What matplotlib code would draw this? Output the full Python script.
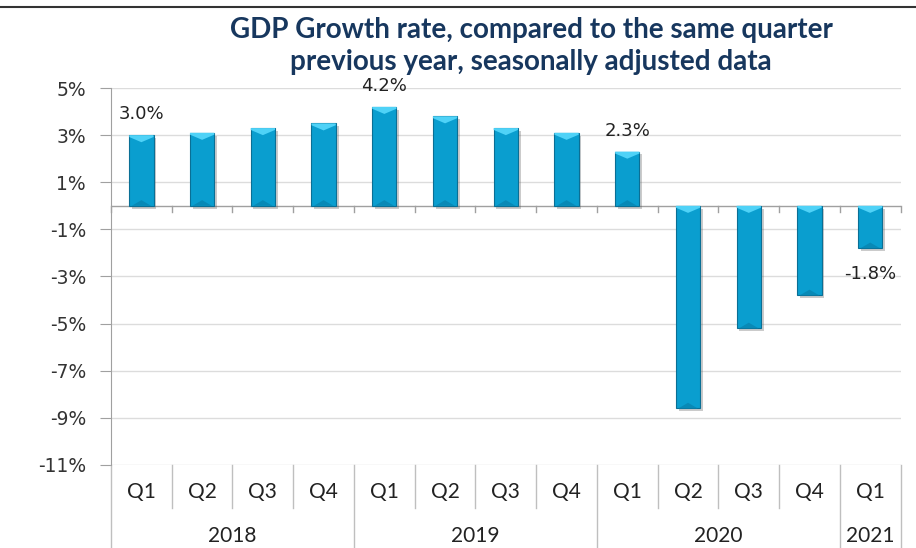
import matplotlib
matplotlib.use("Agg")
import matplotlib.pyplot as plt
import matplotlib.patheffects as pe
from matplotlib.lines import Line2D
import matplotlib.transforms as mtransforms
import numpy as np

# data
quarters = ['Q1', 'Q2', 'Q3', 'Q4', 'Q1', 'Q2', 'Q3', 'Q4', 'Q1', 'Q2', 'Q3', 'Q4', 'Q1']
years = ['2018', '2019', '2020', '2021']
year_counts = [4, 4, 4, 1]
growth = [3.0, 3.1, 3.3, 3.5, 4.2, 3.8, 3.3, 3.1, 2.3, -8.6, -5.2, -3.8, -1.8]
labelled = [0, 4, 8, 12]
yticks = [5, 3, 1, -1, -3, -5, -7, -9, -11]

TITLE = 'GDP Growth rate, compared to the same quarter\nprevious year, seasonally adjusted data'
CAT_FONT = ['Lato', 'DejaVu Sans']

fig = plt.figure(figsize=(9.16, 5.48), dpi=100)
ax = fig.add_axes([0.1212, 0.1515, 0.862, 0.6879])

x = np.arange(len(growth))
bars = ax.bar(x, growth, width=0.4, color='#0A9ECF', edgecolor='#0A6F95',
              linewidth=0.8, zorder=3,
              path_effects=[pe.SimplePatchShadow(offset=(2, -2), shadow_rgbFace='#555555', alpha=0.3),
                            pe.Normal()])

# bevel look: light cap on the upper end, darker notch on the lower end
for r, v in zip(bars, growth):
    x0, w = r.get_x(), r.get_width()
    top, low = max(v, 0), min(v, 0)
    d = 0.3
    ax.fill([x0, x0 + w, x0 + w, x0 + w / 2, x0], [top, top, top - 0.08, top - d, top - 0.08],
            color='#4FD2F7', zorder=4, lw=0)
    ax.fill([x0 + 0.1 * w, x0 + 0.9 * w, x0 + w / 2], [low, low, low + d * 0.8],
            color='#0889B6', zorder=4, lw=0)

for i in labelled:
    v = growth[i]
    off = 21 if v > 0 else -26
    ax.annotate(f'{v:.1f}%', (x[i], v), xytext=(0, off), textcoords='offset pixels',
                ha='center', va='center', fontsize=13, color='#222222', zorder=5)

ax.set_xlim(-0.5, len(growth) - 0.5)
ax.set_ylim(-11, 5)
ax.set_yticks(yticks)
ax.set_yticklabels([f'{t}%' for t in yticks], fontsize=13.5, color='#333333')
ax.tick_params(axis='y', length=8, color='#A0A0A0', pad=10)
ax.set_xticks([])
ax.grid(axis='y', color='#DCDCDC', linewidth=1, zorder=0)
for s in ['top', 'right', 'bottom']:
    ax.spines[s].set_visible(False)
ax.spines['left'].set_color('#A0A0A0')
ax.spines['left'].set_zorder(2)

# zero axis line with tick marks between categories
ax.axhline(0, color='#A0A0A0', linewidth=1, zorder=2)
for b in np.arange(len(growth) + 1) - 0.5:
    ax.plot([b, b], [0, -0.25], color='#A0A0A0', linewidth=1, zorder=2, clip_on=False)

# multi-level category axis below the plot
trans = mtransforms.blended_transform_factory(ax.transData, ax.transAxes)
for i, q in enumerate(quarters):
    ax.text(x[i], -0.072, q, transform=trans, ha='center', va='center',
            fontsize=15, color='#222222', family=CAT_FONT)
edges = np.cumsum([0] + year_counts) - 0.5
year_edges = set(edges.tolist())
for b in np.arange(len(growth) + 1) - 0.5:
    bottom = -0.235 if b in year_edges else -0.114
    ax.add_line(Line2D([b, b], [0, bottom], transform=trans, color='#BFBFBF',
                       linewidth=1, clip_on=False))
for yr, lo, hi in zip(years, edges[:-1], edges[1:]):
    ax.text((lo + hi) / 2, -0.188, yr, transform=trans, ha='center', va='center',
            fontsize=15, color='#222222', family=CAT_FONT)

fig.text(0.58, 0.916, TITLE, ha='center', va='center', fontsize=20, fontweight='bold',
         color='#17375E', linespacing=1.3, family=CAT_FONT)

# frame line along the top of the picture
fig.add_artist(Line2D([0, 1], [0.987, 0.987], transform=fig.transFigure, color='#333333', linewidth=1.5))

fig.savefig('out.png', dpi=100)
